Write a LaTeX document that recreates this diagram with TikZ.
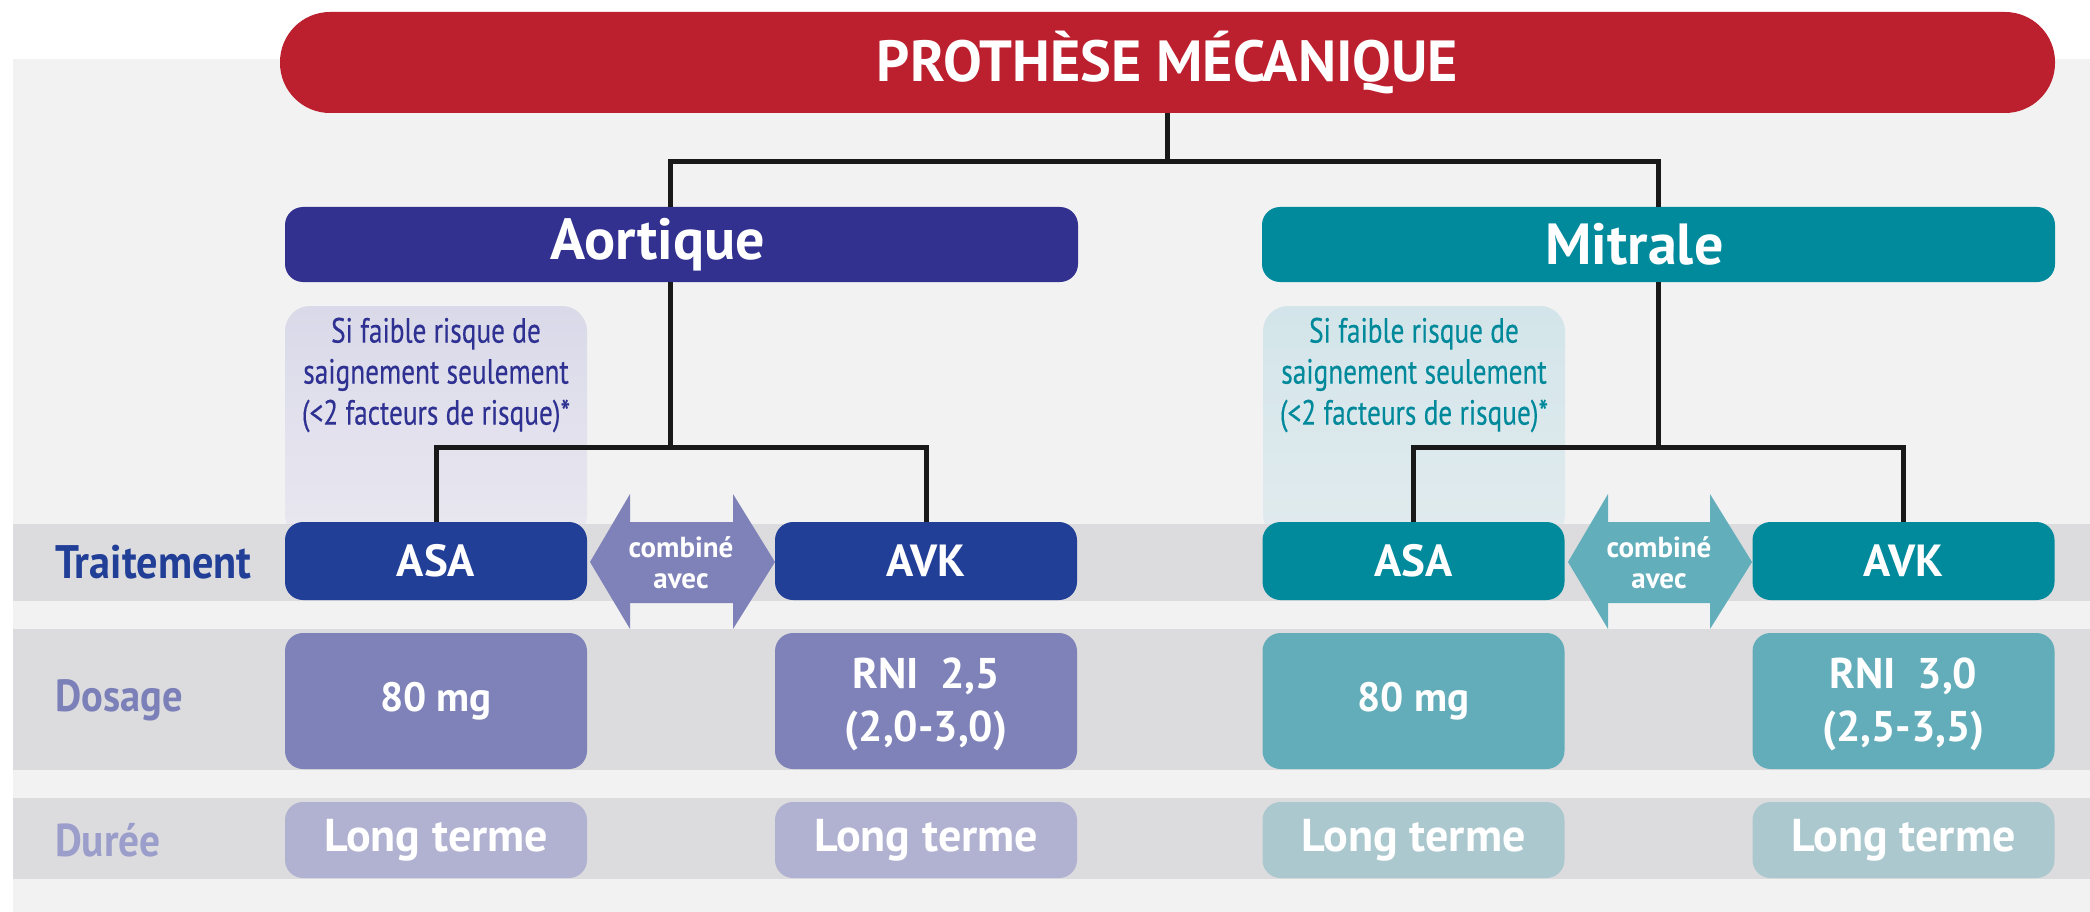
\documentclass[tikz,border=0pt]{standalone}
\usepackage{fontspec}
\setmainfont{PT Sans}
\newfontfamily\labfont{PT Sans}[FakeStretch=0.9]
\newfontfamily\riskfont{PT Sans}[FakeStretch=0.78, FakeBold=0.3]
\definecolor{cred}{HTML}{BC1F2E}
\definecolor{caort}{HTML}{33318F}
\definecolor{cmitr}{HTML}{008A9C}
\definecolor{caasa}{HTML}{223F98}
\definecolor{carr}{HTML}{7F81B9}
\definecolor{cmarr}{HTML}{63AEBB}
\definecolor{cadose}{HTML}{7F82B8}
\definecolor{cmdose}{HTML}{63ADBA}
\definecolor{cadur}{HTML}{B1B2D1}
\definecolor{cmdur}{HTML}{ACC8CF}
\definecolor{cpanel}{HTML}{F2F2F2}
\definecolor{cband}{HTML}{DCDCDE}
\definecolor{crisktopA}{HTML}{DAD9E9}
\definecolor{criskbotA}{HTML}{E9E8F0}
\definecolor{crisktopM}{HTML}{D3E5EA}
\definecolor{criskbotM}{HTML}{E1EBEE}
\definecolor{clabT}{HTML}{223F98}
\definecolor{clabD}{HTML}{7C80B8}
\definecolor{clabU}{HTML}{9B9DCA}
\definecolor{crtxtA}{HTML}{2E3192}
\definecolor{crtxtM}{HTML}{00899B}
\newcommand{\twoline}[2]{\raisebox{-4pt}[\height][\depth]{\begin{tabular}{@{}c@{}}#1\\[3pt]#2\end{tabular}}}
\tikzset{
  box/.style={rectangle, rounded corners=18pt, inner sep=0pt, text=white, align=center},
  conn/.style={draw=black!90, line width=5pt},
  rowlabel/.style={anchor=west, inner sep=0pt},
  risktext/.style={inner sep=0pt, align=center, font=\riskfont\fontsize{35}{41}\selectfont},
  arrtext/.style={inner sep=0pt, align=center, text=white, font=\bfseries\fontsize{29}{31}\selectfont},
}
\begin{document}
\begin{tikzpicture}[x=1pt, y=-1pt]
\useasboundingbox (0,0) rectangle (2090,912);
% panel
\fill[cpanel] (13,59) rectangle (2090,912);
% bands
\fill[cband] (13,524) rectangle (2090,601);
\fill[cband] (13,629) rectangle (2090,770);
\fill[cband] (13,798) rectangle (2090,879);
% risk boxes
\shade[top color=crisktopA, bottom color=criskbotA, rounded corners=25pt] (285,540) -- (285,306) -- (587,306) -- (587,540) -- cycle;
\shade[top color=crisktopM, bottom color=criskbotM, rounded corners=25pt] (1263,540) -- (1263,306) -- (1565,306) -- (1565,540) -- cycle;
\fill[cband] (285,524) rectangle (587,601);
\fill[cband] (1263,524) rectangle (1565,601);
\node[risktext, text=crtxtA] (riskA) at (436,375) {Si faible risque de\\saignement seulement\\(<2 facteurs de risque)*};
\node[risktext, text=crtxtM] (riskM) at (1414,375) {Si faible risque de\\saignement seulement\\(<2 facteurs de risque)*};
% title
\node[box, fill=cred, rounded corners=50pt, minimum width=1775pt, minimum height=101pt,
      font=\bfseries\fontsize{58}{60}\selectfont] (title) at (1167.5,62.5) {PROTHÈSE MÉCANIQUE};
% valve boxes
\node[box, fill=caort, minimum width=793pt, minimum height=75pt,
      font=\bfseries\fontsize{58}{60}\selectfont] (aort) at (681.5,244.5) {Aortique\hspace*{48pt}};
\node[box, fill=cmitr, minimum width=793pt, minimum height=75pt,
      font=\bfseries\fontsize{58}{60}\selectfont] (mitr) at (1658.5,244.5) {Mitrale\hspace*{48pt}};
% treatment boxes
\tikzset{treat/.style={box, minimum width=302pt, minimum height=78pt, font=\bfseries\fontsize{45}{48}\selectfont}}
\node[treat, fill=caasa] (asaA) at (436,561) {ASA};
\node[treat, fill=caasa] (avkA) at (926,561) {AVK};
\node[treat, fill=cmitr] (asaM) at (1413.5,561) {ASA};
\node[treat, fill=cmitr] (avkM) at (1903.5,561) {AVK};
% dosage boxes
\tikzset{dose/.style={box, minimum width=302pt, minimum height=136pt, font=\bfseries\fontsize{41}{50}\selectfont}}
\node[dose, fill=cadose] (doseasaA) at (436,701) {80 mg};
\node[dose, fill=cadose, font=\bfseries\fontsize{43}{50}\selectfont] (doseavkA) at (926,701) {\twoline{RNI\ \ 2,5}{(2,0-3,0)}};
\node[dose, fill=cmdose] (doseasaM) at (1413.5,701) {80 mg};
\node[dose, fill=cmdose, font=\bfseries\fontsize{43}{50}\selectfont] (doseavkM) at (1903.5,701) {\twoline{RNI\ \ 3,0}{(2,5-3,5)}};
% duration boxes
\tikzset{dur/.style={box, minimum width=302pt, minimum height=76pt, font=\bfseries\fontsize{46}{48}\selectfont}}
\node[dur, fill=cadur] (durasaA) at (436,840) {Long terme};
\node[dur, fill=cadur] (duravkA) at (926,840) {Long terme};
\node[dur, fill=cmdur] (durasaM) at (1413.5,840) {Long terme};
\node[dur, fill=cmdur] (duravkM) at (1903.5,840) {Long terme};
% double arrows
\fill[carr] (590,562) -- (630,494) -- (630,522) -- (733,522) -- (733,494) -- (775,562) -- (733,629) -- (733,603) -- (630,603) -- (630,629) -- cycle;
\node[arrtext] (combA) at (681,563) {combiné\\avec};
\fill[cmarr] (1568,562) -- (1608,494) -- (1608,522) -- (1710,522) -- (1710,494) -- (1752,562) -- (1710,629) -- (1710,603) -- (1608,603) -- (1608,629) -- cycle;
\node[arrtext] (combM) at (1659,563) {combiné\\avec};
% row labels
\node[rowlabel, text=clabT, font=\labfont\bfseries\fontsize{47}{50}\selectfont] (labT) at (55,562) {Traitement};
\node[rowlabel, text=clabD, font=\labfont\bfseries\fontsize{45}{50}\selectfont] (labD) at (55,700) {Dosage};
\node[rowlabel, text=clabU, font=\labfont\bfseries\fontsize{46}{50}\selectfont] (labU) at (55,840) {Durée};
% connectors
\coordinate (jtop) at (1167.5,162);
\coordinate (jA) at (670,447);
\coordinate (jM) at (1658.5,447);
\draw[conn] (title.south) -- (jtop);
\draw[conn] (jtop) -| ([xshift=-11.5pt]aort.north);
\draw[conn] (jtop) -| (mitr.north);
\draw[conn] ([xshift=-11.5pt]aort.south) -- (jA);
\draw[conn] (jA) -| (asaA.north);
\draw[conn] (jA) -| (avkA.north);
\draw[conn] (mitr.south) -- (jM);
\draw[conn] (jM) -| (asaM.north);
\draw[conn] (jM) -| (avkM.north);
\end{tikzpicture}
\end{document}
